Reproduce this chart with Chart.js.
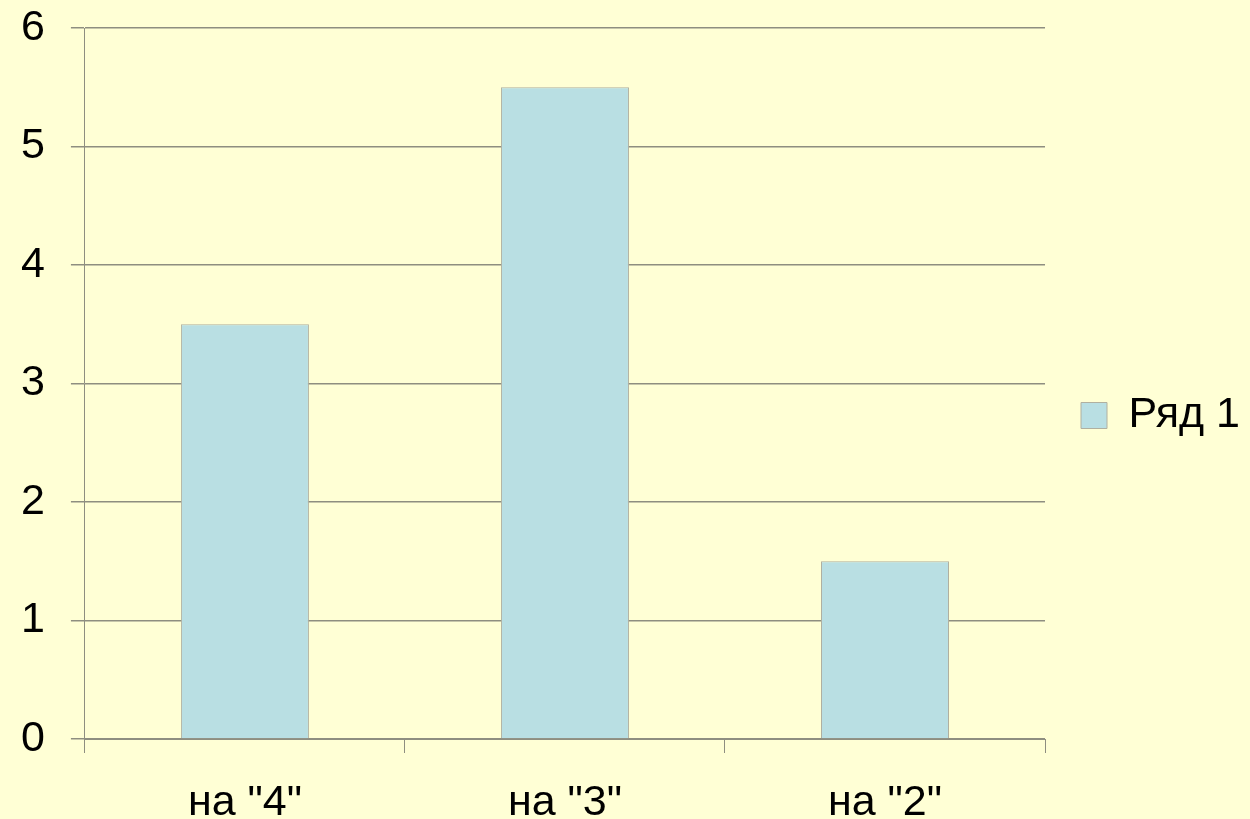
<!DOCTYPE html>
<html lang="ru">
<head>
<meta charset="utf-8">
<title>Ряд 1</title>
<script src="https://cdn.jsdelivr.net/npm/chart.js@4.4.1/dist/chart.umd.min.js"></script>
<style>
    body { margin: 0; background: #ffffd5; }
    #wrap { width: 1250px; height: 819px; }
</style>
</head>
<body>
<div id="wrap"><canvas id="resChart" width="1250" height="819"></canvas></div>
<script>
    // données du graphique
    const categories = ['на "4"', 'на "3"', 'на "2"'];
    const serieNom = 'Ряд 1';
    const serieValeurs = [3.5, 5.5, 1.5];
    const yTicks = [0, 1, 2, 3, 4, 5, 6];

    const gris = '#8e8e80';
    const police = "'Liberation Sans', Arial, sans-serif";
    const taille = 43;

    const resChart = new Chart(document.getElementById('resChart').getContext('2d'), {
        type: 'bar',
        data: {
            labels: categories,
            datasets: [{
                label: serieNom,
                data: serieValeurs,
                backgroundColor: '#b9dfe3',
                borderColor: '#b0b0a0',
                borderWidth: 1,
                categoryPercentage: 1,
                barPercentage: 0.4
            }]
        },
        options: {
            responsive: false,
            animation: false,
            layout: { padding: { top: 28, left: -5, right: 0, bottom: -35 } },
            plugins: {
                tooltip: { enabled: false },
                legend: {
                    position: 'right',
                    fullSize: false,
                    // titre vide : sert seulement à descendre un peu la légende
                    title: { display: true, text: ' ', padding: 26, font: { size: 10 } },
                    labels: {
                        boxWidth: 26,
                        boxHeight: 26,
                        padding: 36,
                        color: '#000',
                        font: { family: police, size: taille }
                    }
                }
            },
            scales: {
                x: {
                    grid: {
                        offset: true,
                        drawOnChartArea: false,
                        color: gris,
                        tickLength: 14
                    },
                    border: { color: gris, width: 1 },
                    ticks: {
                        color: '#000',
                        padding: 29,
                        font: { family: police, size: taille, lineHeight: 1 }
                    }
                },
                y: {
                    min: yTicks[0],
                    max: yTicks[yTicks.length - 1],
                    afterBuildTicks: axis => { axis.ticks = yTicks.map(v => ({ value: v })); },
                    grid: { color: gris, lineWidth: 1.5, tickLength: 14 },
                    border: { color: gris, width: 1 },
                    ticks: {
                        color: '#000',
                        padding: 26,
                        // hauteur de ligne quasi nulle : les labels ne décalent pas la zone du graphe
                        font: { family: police, size: taille, lineHeight: 0.01 }
                    }
                }
            }
        }
    });
</script>
</body>
</html>
